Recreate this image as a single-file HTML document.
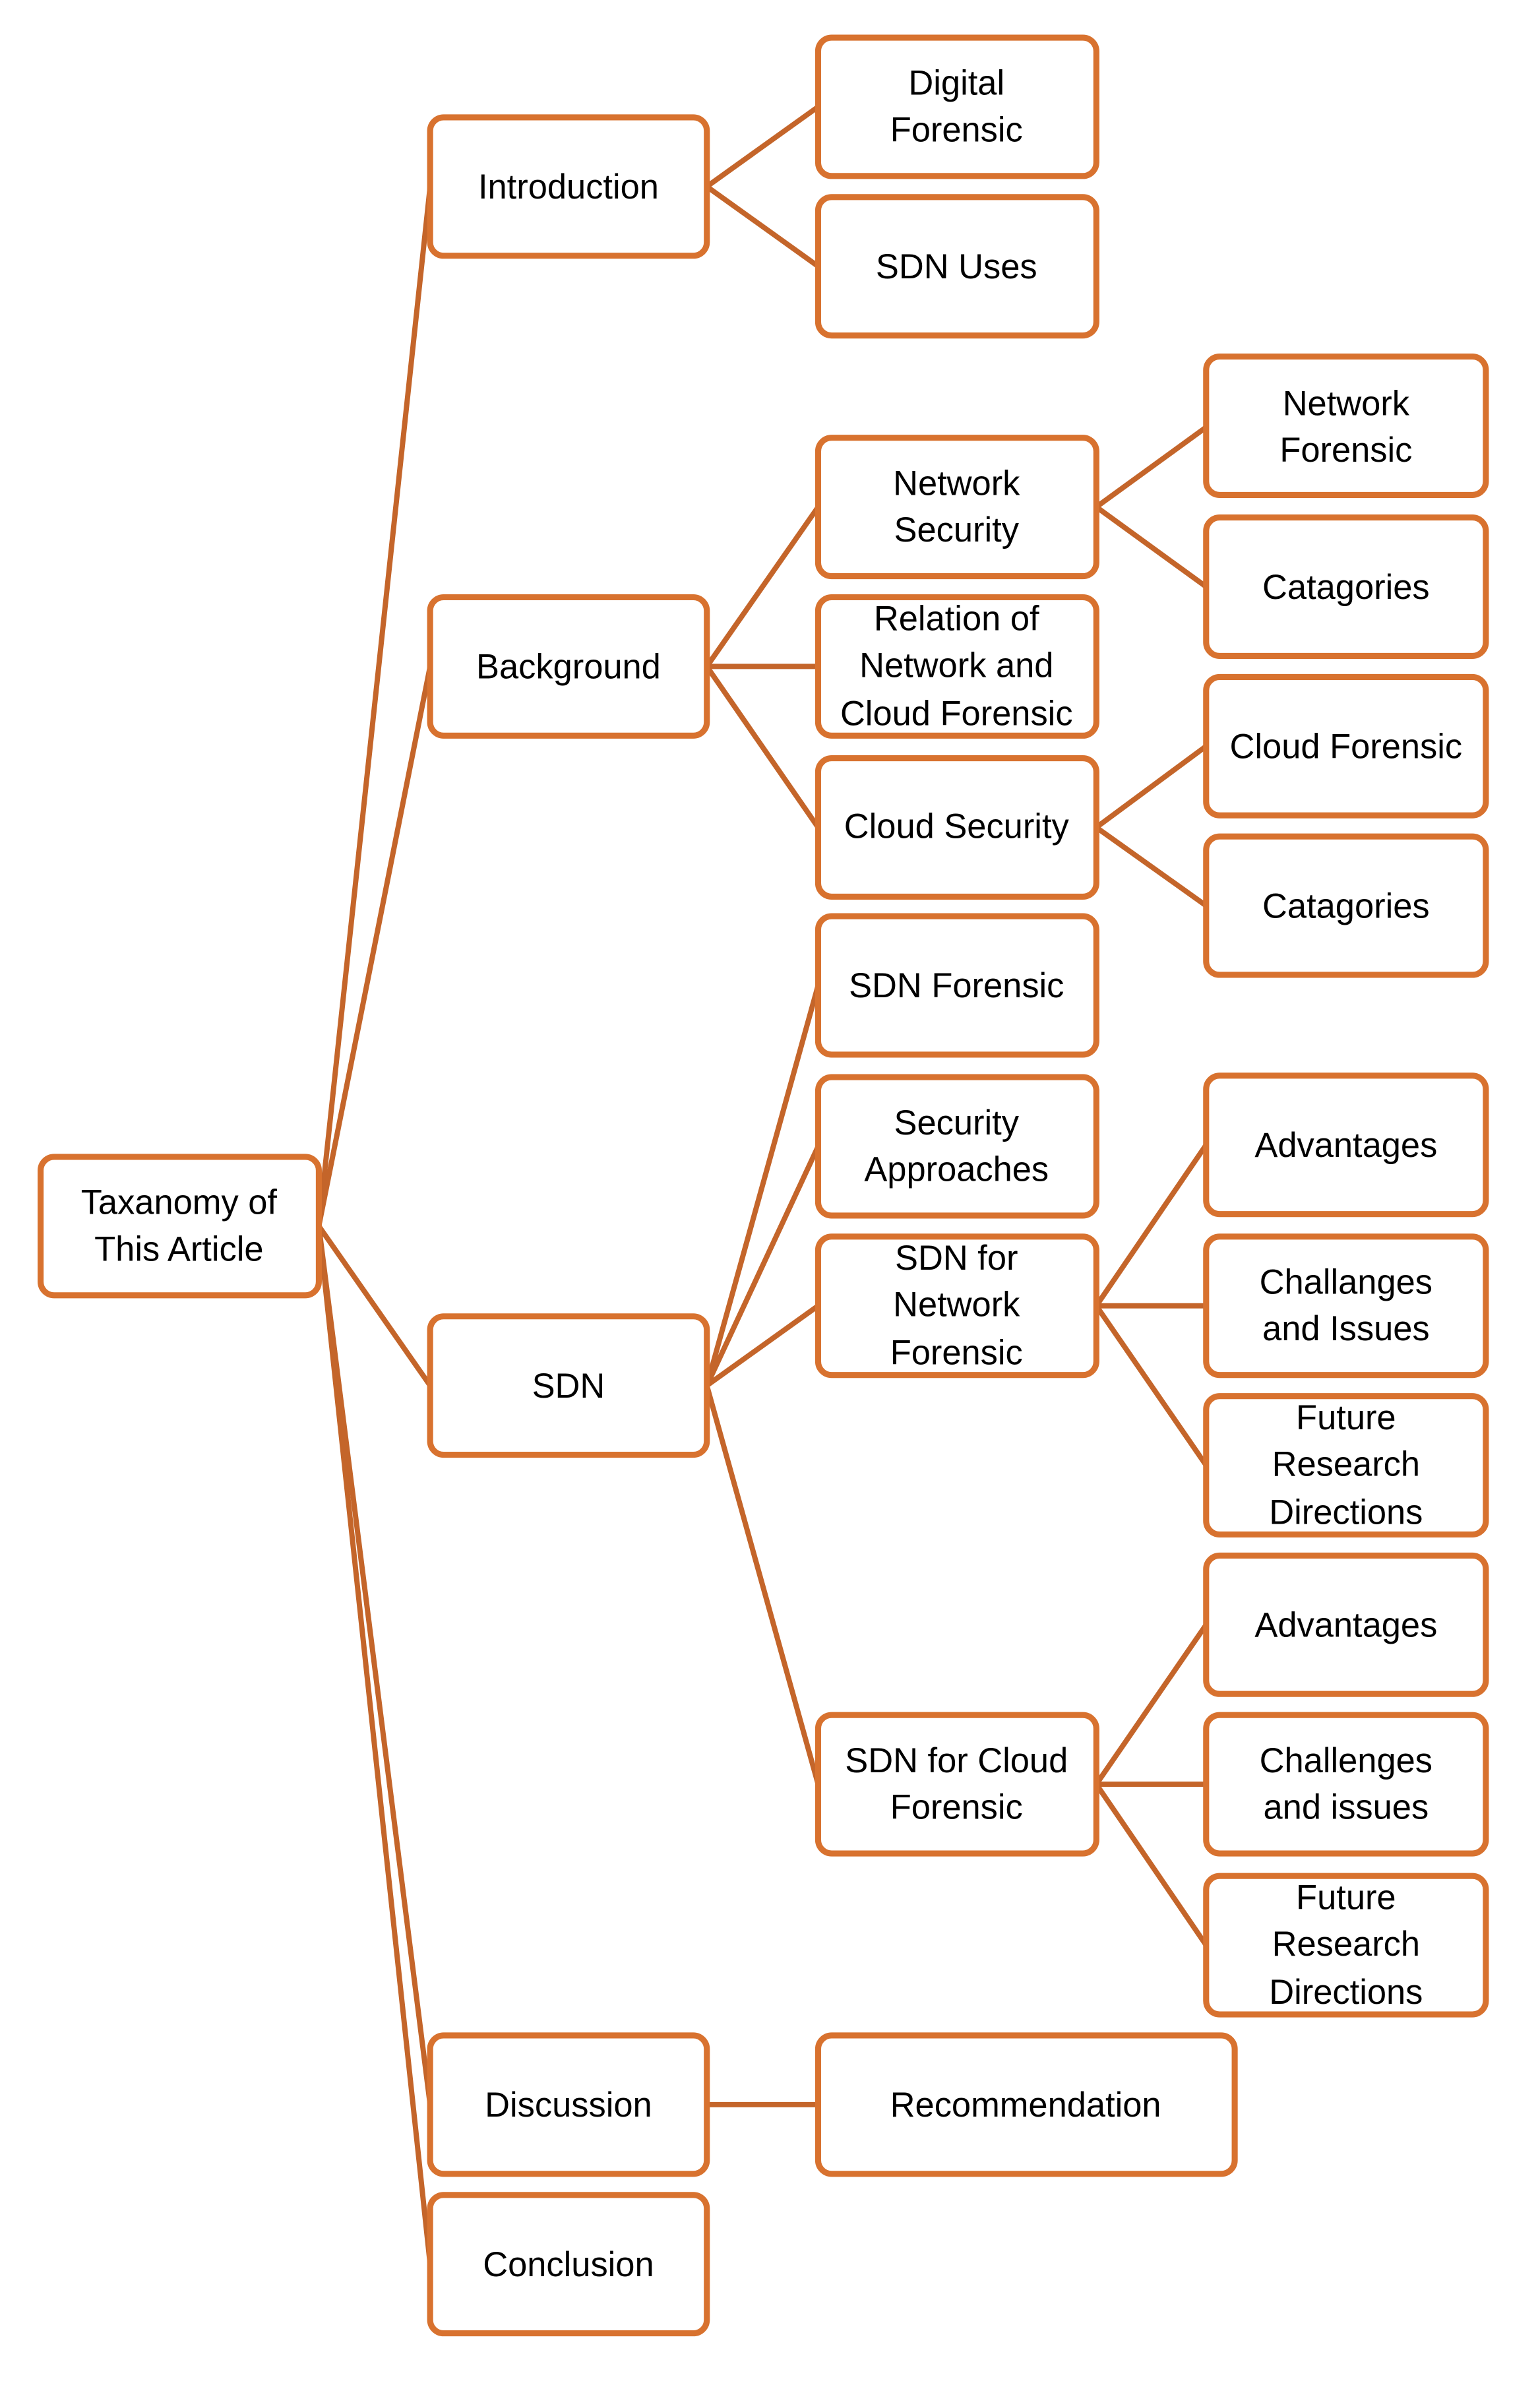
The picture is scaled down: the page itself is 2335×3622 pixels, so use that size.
<!DOCTYPE html>
<html><head><meta charset="utf-8"><style>
html,body{margin:0;padding:0;background:#fff;}
svg{display:block;}
text{font-family:"Liberation Sans",sans-serif;font-size:23px;fill:#000;text-anchor:middle;}
</style></head><body>
<svg width="2335" height="3622" viewBox="0 0 1024 1588" preserveAspectRatio="none" xmlns="http://www.w3.org/2000/svg">
<g stroke="#C4652A" stroke-width="3.5" fill="none" stroke-linecap="round">
<line x1="212" y1="815" x2="286" y2="124"/>
<line x1="212" y1="815" x2="286" y2="443"/>
<line x1="212" y1="815" x2="286" y2="921"/>
<line x1="212" y1="815" x2="286" y2="1399"/>
<line x1="212" y1="815" x2="286" y2="1505"/>
<line x1="470" y1="124" x2="544" y2="71"/>
<line x1="470" y1="124" x2="544" y2="177"/>
<line x1="470" y1="443" x2="544" y2="337"/>
<line x1="470" y1="443" x2="544" y2="443"/>
<line x1="470" y1="443" x2="544" y2="550"/>
<line x1="729" y1="337" x2="802" y2="284"/>
<line x1="729" y1="337" x2="802" y2="390"/>
<line x1="729" y1="550" x2="802" y2="496"/>
<line x1="729" y1="550" x2="802" y2="602"/>
<line x1="470" y1="921" x2="544" y2="655"/>
<line x1="470" y1="921" x2="544" y2="762"/>
<line x1="470" y1="921" x2="544" y2="868"/>
<line x1="470" y1="921" x2="544" y2="1186"/>
<line x1="729" y1="868" x2="802" y2="761"/>
<line x1="729" y1="868" x2="802" y2="868"/>
<line x1="729" y1="868" x2="802" y2="974"/>
<line x1="729" y1="1186" x2="802" y2="1080"/>
<line x1="729" y1="1186" x2="802" y2="1186"/>
<line x1="729" y1="1186" x2="802" y2="1293"/>
<line x1="470" y1="1399" x2="544" y2="1399"/>
</g>
<g stroke="#D8722F" stroke-width="4" fill="#fff">
<rect x="27" y="769" width="185" height="92" rx="9"/>
<rect x="286" y="78" width="184" height="92" rx="9"/>
<rect x="286" y="397" width="184" height="92" rx="9"/>
<rect x="286" y="875" width="184" height="92" rx="9"/>
<rect x="286" y="1353" width="184" height="92" rx="9"/>
<rect x="286" y="1459" width="184" height="92" rx="9"/>
<rect x="544" y="25" width="185" height="92" rx="9"/>
<rect x="544" y="131" width="185" height="92" rx="9"/>
<rect x="544" y="291" width="185" height="92" rx="9"/>
<rect x="544" y="397" width="185" height="92" rx="9"/>
<rect x="544" y="504" width="185" height="92" rx="9"/>
<rect x="544" y="609" width="185" height="92" rx="9"/>
<rect x="544" y="716" width="185" height="92" rx="9"/>
<rect x="544" y="822" width="185" height="92" rx="9"/>
<rect x="544" y="1140" width="185" height="92" rx="9"/>
<rect x="544" y="1353" width="277" height="92" rx="9"/>
<rect x="802" y="237" width="186" height="92" rx="9"/>
<rect x="802" y="344" width="186" height="92" rx="9"/>
<rect x="802" y="450" width="186" height="92" rx="9"/>
<rect x="802" y="556" width="186" height="92" rx="9"/>
<rect x="802" y="715" width="186" height="92" rx="9"/>
<rect x="802" y="822" width="186" height="92" rx="9"/>
<rect x="802" y="928" width="186" height="92" rx="9"/>
<rect x="802" y="1034" width="186" height="92" rx="9"/>
<rect x="802" y="1140" width="186" height="92" rx="9"/>
<rect x="802" y="1247" width="186" height="92" rx="9"/>
</g>
<g>
<text x="119" y="807">Taxanomy of</text><text x="119" y="838">This Article</text>
<text x="378" y="132">Introduction</text>
<text x="378" y="451">Background</text>
<text x="378" y="929">SDN</text>
<text x="378" y="1407">Discussion</text>
<text x="378" y="1513">Conclusion</text>
<text x="636" y="63">Digital</text><text x="636" y="94">Forensic</text>
<text x="636" y="185">SDN Uses</text>
<text x="636" y="329">Network</text><text x="636" y="360">Security</text>
<text x="636" y="419">Relation of</text><text x="636" y="450">Network and</text><text x="636" y="482">Cloud Forensic</text>
<text x="636" y="557">Cloud Security</text>
<text x="636" y="663">SDN Forensic</text>
<text x="636" y="754">Security</text><text x="636" y="785">Approaches</text>
<text x="636" y="844">SDN for</text><text x="636" y="875">Network</text><text x="636" y="907">Forensic</text>
<text x="636" y="1178">SDN for Cloud</text><text x="636" y="1209">Forensic</text>
<text x="682" y="1407">Recommendation</text>
<text x="895" y="276">Network</text><text x="895" y="307">Forensic</text>
<text x="895" y="398">Catagories</text>
<text x="895" y="504">Cloud Forensic</text>
<text x="895" y="610">Catagories</text>
<text x="895" y="769">Advantages</text>
<text x="895" y="860">Challanges</text><text x="895" y="891">and Issues</text>
<text x="895" y="950">Future</text><text x="895" y="981">Research</text><text x="895" y="1013">Directions</text>
<text x="895" y="1088">Advantages</text>
<text x="895" y="1178">Challenges</text><text x="895" y="1209">and issues</text>
<text x="895" y="1269">Future</text><text x="895" y="1300">Research</text><text x="895" y="1332">Directions</text>
</g>
</svg>
</body></html>
